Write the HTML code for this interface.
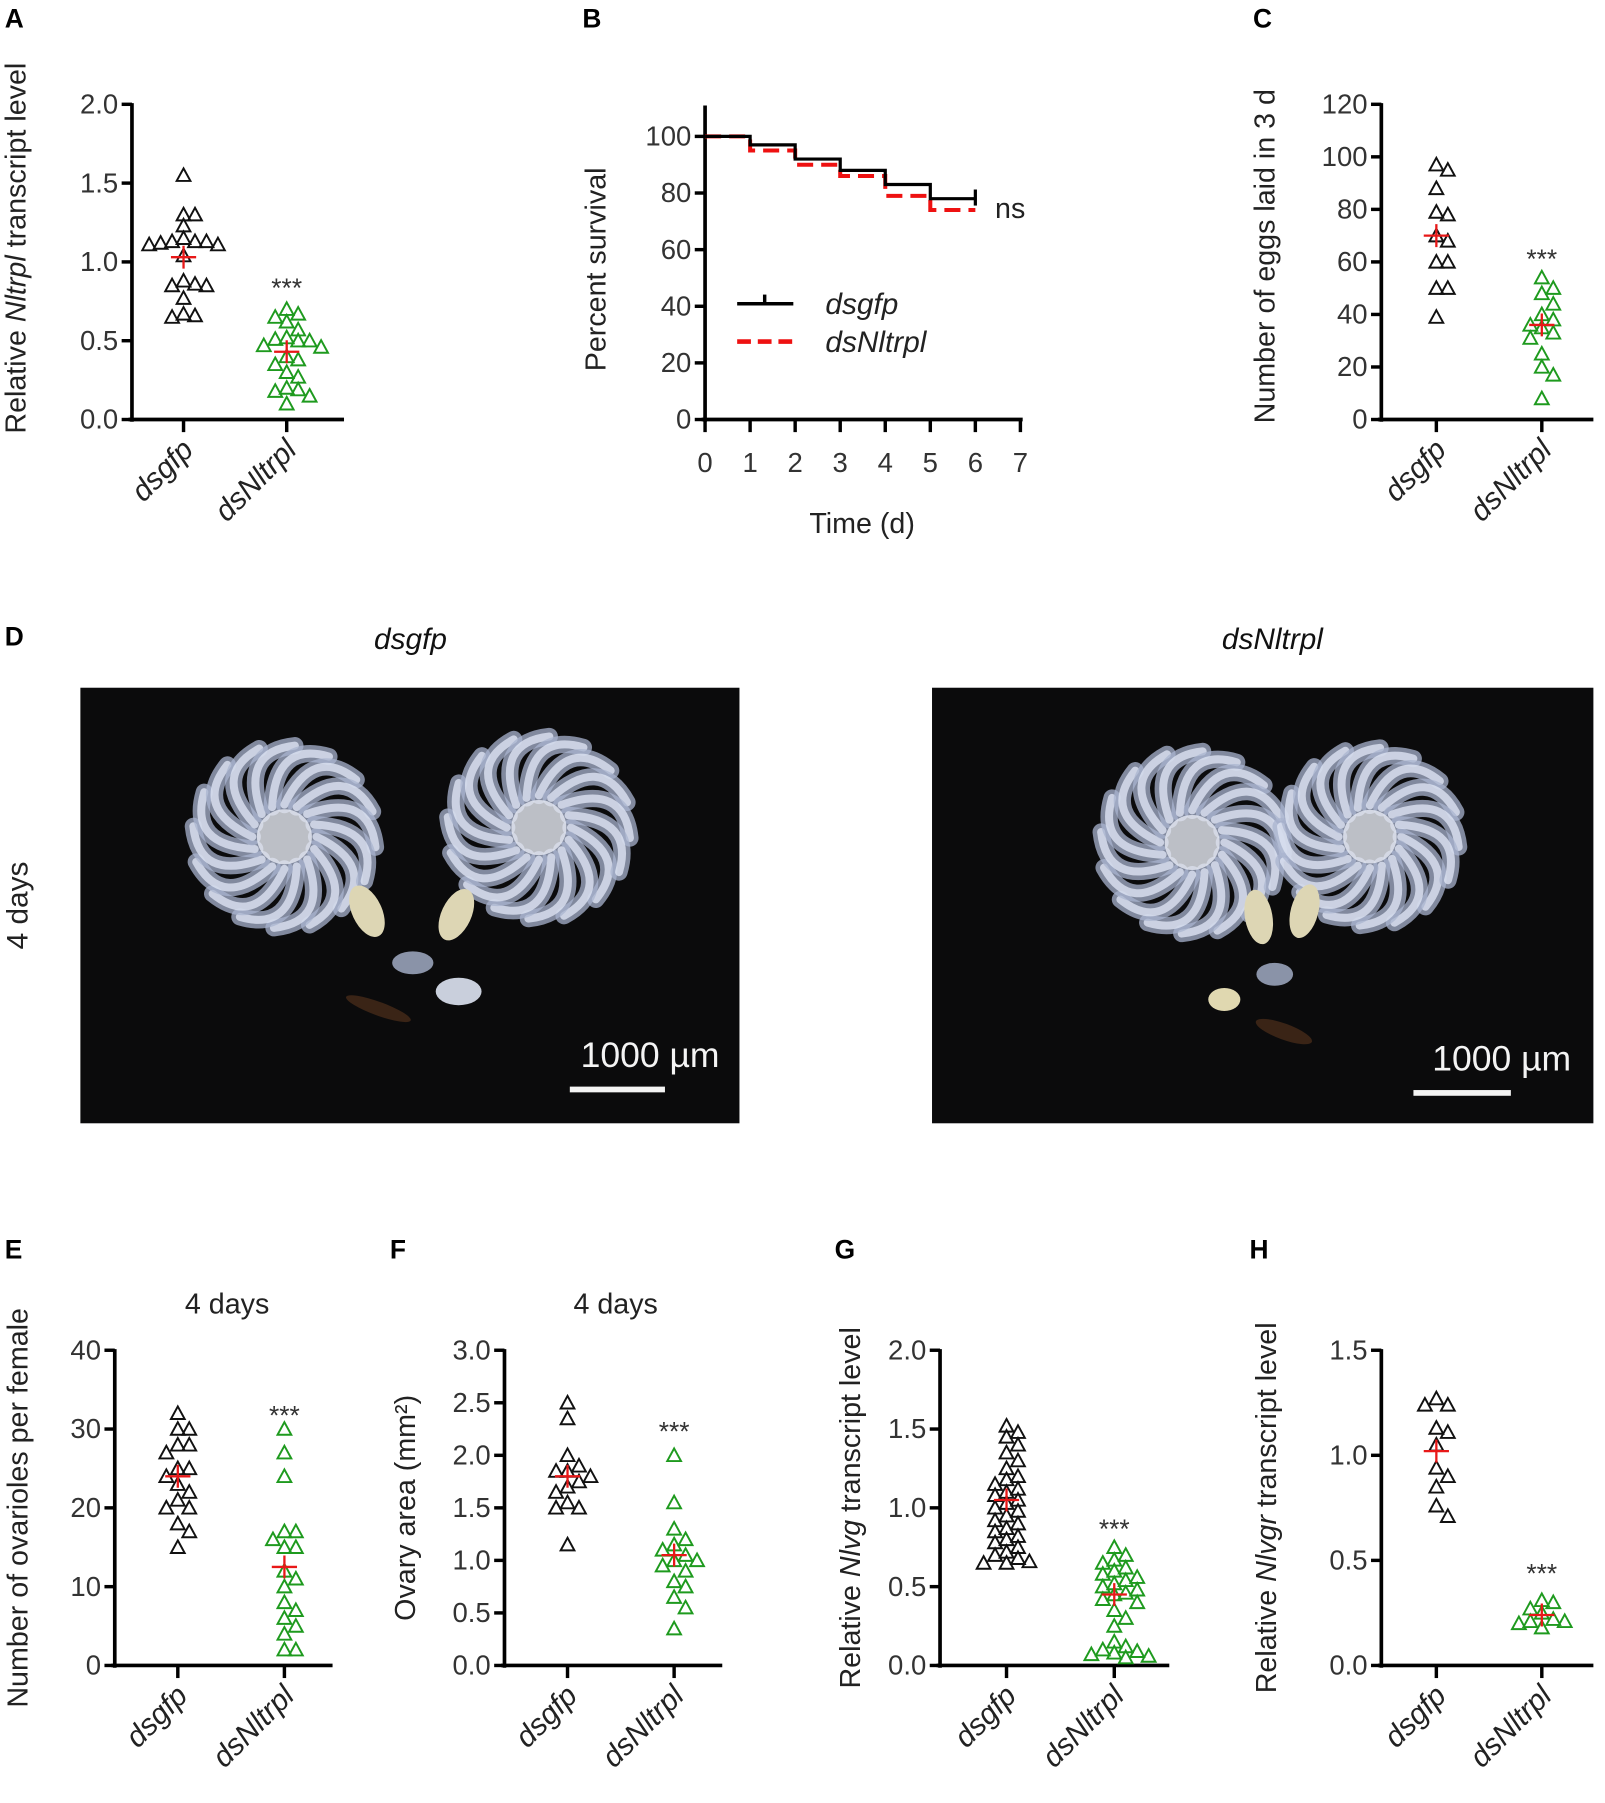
<!DOCTYPE html>
<html><head><meta charset="utf-8"><style>
html,body{margin:0;padding:0;background:#fff}
svg{display:block}
text{font-family:"Liberation Sans",Arial,sans-serif}
</style></head><body>
<svg id="fig" width="1605" height="1803" viewBox="0 0 1400 1573" xmlns="http://www.w3.org/2000/svg">
<g id="root"></g>
</svg>
<script>
// ---------- DATA ----------
const groups = ["dsgfp", "dsNltrpl"];
const aCtrl = [1.55,1.30,1.30,1.23,1.15,1.13,1.13,1.13,1.12,1.11,1.11,1.04,0.88,0.86,0.85,0.85,0.77,0.67,0.66,0.65];
const aKd = [0.70,0.67,0.65,0.62,0.57,0.52,0.51,0.50,0.50,0.47,0.46,0.40,0.38,0.35,0.30,0.27,0.20,0.19,0.18,0.15,0.10];
const aMeans = [1.03, 0.43];
const aTicks = ["0.0","0.5","1.0","1.5","2.0"];

const bDays = [0,1,2,3,4,5,6];
const bCtrl = [100,97,92,88,83,78,78];
const bKd = [100,95,90,86,79,74,74];
const bTicksY = ["0","20","40","60","80","100"];
const bTicksX = ["0","1","2","3","4","5","6","7"];

const cCtrl = [97,95,88,79,78,70,68,60,60,50,50,39];
const cKd = [54,50,48,44,40,38,36,35,33,31,25,20,17,8];
const cMeans = [70, 36];
const cTicks = ["0","20","40","60","80","100","120"];

const eCtrl = [32,30,30,28,28,27,25,25,24,23,22,21,20,20,18,17,15];
const eKd = [30,27,24,17,17,16,15,15,12,11,10,8,7,6,5,4,2,2];
const eMeans = [24, 12.5];
const eTicks = ["0","10","20","30","40"];

const fCtrl = [2.5,2.35,2.0,1.9,1.85,1.85,1.8,1.75,1.7,1.65,1.55,1.5,1.5,1.15];
const fKd = [2.0,1.55,1.3,1.2,1.15,1.1,1.05,1.0,1.0,0.95,0.9,0.8,0.75,0.65,0.55,0.35];
const fMeans = [1.8, 1.05];
const fTicks = ["0.0","0.5","1.0","1.5","2.0","2.5","3.0"];

const gCtrl = [1.52,1.48,1.45,1.40,1.35,1.30,1.25,1.20,1.18,1.15,1.12,1.10,1.08,1.05,1.03,1.00,0.98,0.95,0.92,0.90,0.87,0.85,0.82,0.80,0.78,0.75,0.72,0.70,0.68,0.66,0.65,0.65];
const gKd = [0.75,0.70,0.67,0.65,0.62,0.60,0.58,0.56,0.54,0.52,0.50,0.48,0.46,0.45,0.42,0.40,0.35,0.30,0.25,0.15,0.12,0.10,0.09,0.08,0.07,0.06,0.05];
const gMeans = [1.05, 0.45];
const gTicks = ["0.0","0.5","1.0","1.5","2.0"];

const hCtrl = [1.27,1.24,1.24,1.13,1.11,1.05,0.94,0.90,0.85,0.76,0.71];
const hKd = [0.31,0.30,0.27,0.25,0.22,0.21,0.21,0.20,0.18];
const hMeans = [1.02, 0.24];
const hTicks = ["0.0","0.5","1.0","1.5"];

// ---------- DRAW ----------
const NS="http://www.w3.org/2000/svg";
const root=document.getElementById('root');
function el(tag,attrs,parent,txt){const e=document.createElementNS(NS,tag);for(const k in attrs)e.setAttribute(k,attrs[k]);if(txt!==undefined)e.textContent=txt;(parent||root).appendChild(e);return e;}

function label(x,y,t){
  const e=el('text',{x:x,y:y,'font-size':23,'font-weight':'bold',fill:'#000'},root,t);
  
  
}

function ytitle(g,cx,cy,parts){
  const t=el('text',{x:0,y:0,'font-size':25,fill:'#222','text-anchor':'middle',transform:`translate(${cx},${cy}) rotate(-90)`},g);
  
  
  parts.forEach(p=>{const s=el('tspan',{},t,p[0]);if(p[1])s.setAttribute('font-style','italic');});
}

function swarm(vals,yfn,cx){
  const placed=[];const out=[];
  const order=vals.map((v,i)=>i).sort((a,b)=>vals[b]-vals[a]);
  order.forEach(i=>{
    const y=yfn(vals[i]);let k=0,x=cx;
    while(true){
      const off=(k%2?1:-1)*Math.ceil(k/2)*10;x=cx+off;
      if(placed.every(p=>Math.hypot(p[0]-x,p[1]-y)>=9.5))break;k++;if(k>20)break;
    }
    placed.push([x,y]);out.push([x,y]);
  });
  return out;
}

function tri(g,x,y,col){
  const t=el('path',{d:`M${x},${y-6} L${x+6},${y+5} L${x-6},${y+5} Z`,fill:'none',stroke:col,'stroke-width':1.7},g);
  
  
}

function scatterPanel(o){
  const g=el('g',{});
  
  
  const y=v=>o.y0-(v/o.max)*(o.y0-o.ytop);
  const ya=el('line',{x1:o.ax,y1:o.ytop-1,x2:o.ax,y2:o.y0+2,stroke:'#000','stroke-width':3.2},g);
  
  const xa=el('line',{x1:o.ax-3,y1:o.y0,x2:o.xend,y2:o.y0,stroke:'#000','stroke-width':3.2},g);
  
  o.ticks.forEach(t=>{
    const v=parseFloat(t),yy=y(v);
    el('line',{x1:o.ax-9,y1:yy,x2:o.ax,y2:yy,stroke:'#000','stroke-width':3},g);
    const tl=el('text',{x:o.ax-12,y:yy+8,'font-size':24,fill:'#333','text-anchor':'end'},g,t);
    
    
  });
  [o.xc[0],o.xc[1]].forEach((xc,i)=>{
    el('line',{x1:xc,y1:o.y0,x2:xc,y2:o.y0+11,stroke:'#000','stroke-width':3},g);
    const tl=el('text',{x:0,y:0,'font-size':26,fill:'#222','font-style':'italic','text-anchor':'end',transform:`translate(${xc+10},${o.y0+28}) rotate(-45)`},g,groups[i]);
    
    
  });
  [o.d0,o.d1].forEach((d,i)=>{
    const col=i?'#1e9a1e':'#111';
    swarm(d,y,o.xc[i]).forEach(p=>tri(g,p[0],p[1],col));
    const m=y(o.means[i]);
    const mk=el('path',{d:`M${o.xc[i]-11},${m} H${o.xc[i]+11} M${o.xc[i]},${m-10} V${m+10}`,stroke:'#e81818','stroke-width':2},g);
    
    
  });
  const st=el('text',{x:o.xc[1],y:y(o.star)+10,'font-size':23,fill:'#333','text-anchor':'middle'},g,'***');
  
  
  ytitle(g,o.tx,(o.ytop+o.y0)/2+o.tyOff,o.title);
  if(o.sub){const s=el('text',{x:o.subx,y:1146,'font-size':25,fill:'#222','text-anchor':'middle'},g,'4 days');}
}

label(4,24,'A');label(508,24,'B');label(1093,24,'C');label(4,563,'D');
label(4,1098,'E');label(340,1098,'F');label(728,1098,'G');label(1090,1098,'H');

scatterPanel({name:'panel-a-chart',ax:115,y0:366,ytop:91,max:2,xend:300,xc:[160,250],ticks:aTicks,d0:aCtrl,d1:aKd,means:aMeans,star:0.85,tx:22,tyOff:-12,title:[['Relative '],['Nltrpl',1],[' transcript level']]});
scatterPanel({name:'panel-c-chart',ax:1205,y0:366,ytop:91,max:120,xend:1390,xc:[1253,1345],ticks:cTicks,d0:cCtrl,d1:cKd,means:cMeans,star:62,tx:1112,tyOff:-5,title:[['Number of eggs laid in 3 d']]});
scatterPanel({name:'panel-e-chart',ax:100,y0:1453,ytop:1178,max:40,xend:290,xc:[155,248],ticks:eTicks,d0:eCtrl,d1:eKd,means:eMeans,star:32,tx:24,tyOff:0,title:[['Number of ovarioles per female']],sub:1,subx:198});
scatterPanel({name:'panel-f-chart',ax:440,y0:1453,ytop:1178,max:3,xend:630,xc:[495,588],ticks:fTicks,d0:fCtrl,d1:fKd,means:fMeans,star:2.25,tx:362,tyOff:0,title:[['Ovary area (mm'],['²'],[')']],sub:1,subx:537});
scatterPanel({name:'panel-g-chart',ax:820,y0:1453,ytop:1178,max:2,xend:1020,xc:[878,972],ticks:gTicks,d0:gCtrl,d1:gKd,means:gMeans,star:0.88,tx:750,tyOff:0,title:[['Relative '],['Nlvg',1],[' transcript level']]});
scatterPanel({name:'panel-h-chart',ax:1205,y0:1453,ytop:1178,max:1.5,xend:1390,xc:[1253,1345],ticks:hTicks,d0:hCtrl,d1:hKd,means:hMeans,star:0.45,tx:1113,tyOff:0,title:[['Relative '],['Nlvgr',1],[' transcript level']]});

// Panel B survival
(function(){
  const g=el('g',{});
  
  
  const ax=615,y0=366,y100=119,xs=39.3;
  const x=d=>ax+d*xs, y=v=>y0-(v/100)*(y0-y100);
  const ya=el('line',{x1:ax,y1:92,x2:ax,y2:y0+2,stroke:'#000','stroke-width':3.2},g);
  
  const xa=el('line',{x1:ax-3,y1:y0,x2:x(7)+2,y2:y0,stroke:'#000','stroke-width':3.2},g);
  
  bTicksY.forEach(t=>{const yy=y(+t);el('line',{x1:ax-9,y1:yy,x2:ax,y2:yy,stroke:'#000','stroke-width':3},g);
    const tl=el('text',{x:ax-12,y:yy+8,'font-size':24,fill:'#333','text-anchor':'end'},g,t);
    });
  bTicksX.forEach(t=>{const xx=x(+t);el('line',{x1:xx,y1:y0,x2:xx,y2:y0+11,stroke:'#000','stroke-width':3},g);
    const tl=el('text',{x:xx,y:412,'font-size':24,fill:'#333','text-anchor':'middle'},g,t);
    });
  function step(vals,col,dash,w){
    let d=`M${x(bDays[0])},${y(vals[0])}`;
    for(let i=1;i<bDays.length;i++){d+=` H${x(bDays[i])} V${y(vals[i])}`;}
    const p=el('path',{d:d,fill:'none',stroke:col,'stroke-width':w},g);
    if(dash)p.setAttribute('stroke-dasharray',dash);
    return p;
  }
  const r=step(bKd,'#ee1111','14 7',3.5);
  const k=step(bCtrl,'#000',null,2.8);
  el('line',{x1:x(6),y1:y(bCtrl[6])-8,x2:x(6),y2:y(bCtrl[6])+6,stroke:'#000','stroke-width':2.8},g);
  const ns=el('text',{x:868,y:190,'font-size':25,fill:'#222'},g,'ns');
  const lg=el('g',{},g);
  el('line',{x1:643,y1:265,x2:692,y2:265,stroke:'#000','stroke-width':3},lg);
  el('line',{x1:667,y1:257,x2:667,y2:265,stroke:'#000','stroke-width':3},lg);
  el('text',{x:720,y:274,'font-size':26,'font-style':'italic',fill:'#222'},lg,'dsgfp');
  el('line',{x1:643,y1:298,x2:692,y2:298,stroke:'#ee1111','stroke-width':4,'stroke-dasharray':'12 6'},lg);
  el('text',{x:720,y:307,'font-size':26,'font-style':'italic',fill:'#222'},lg,'dsNltrpl');
  const yt=el('text',{x:0,y:0,'font-size':25,fill:'#222','text-anchor':'middle',transform:'translate(528,235) rotate(-90)'},g,'Percent survival');
  
  const xt=el('text',{x:752,y:465,'font-size':25,fill:'#222','text-anchor':'middle'},g,'Time (d)');
  
})();

// Panel D photos
(function(){
  const g=el('g',{});
  
  
  [['dsgfp',358],['dsNltrpl',1110]].forEach(a=>{const t=el('text',{x:a[1],y:566,'font-size':26,'font-style':'italic',fill:'#111','text-anchor':'middle'},g,a[0]);});
  const d4=el('text',{x:0,y:0,'font-size':26,fill:'#222','text-anchor':'middle',transform:'translate(24,790) rotate(-90)'},g,'4 days');
  
  function photo(x0,w,clusters,ducts,bar){
    const p=el('g',{},g);
    
    
    el('rect',{x:x0,y:600,width:w,height:380,fill:'#0b0b0c'},p);
    clusters.forEach(c=>{
      const [cx,cy,r,n]=c;
      for(let i=0;i<n;i++){
        const a=(i/n)*Math.PI*2;
        const sx=cx+Math.cos(a)*r*0.35, sy=cy+Math.sin(a)*r*0.35;
        const ex=cx+Math.cos(a+0.9)*r, ey=cy+Math.sin(a+0.9)*r;
        const mx=cx+Math.cos(a+0.3)*r*1.05, my=cy+Math.sin(a+0.3)*r*1.05;
        el('path',{d:`M${sx},${sy} Q${mx},${my} ${ex},${ey}`,fill:'none',stroke:'#a9b4cf','stroke-width':15,'stroke-linecap':'round',opacity:0.75},p);
        el('path',{d:`M${sx},${sy} Q${mx},${my} ${ex},${ey}`,fill:'none',stroke:'#dde4f2','stroke-width':7,'stroke-linecap':'round',opacity:0.8},p);
      }
      el('circle',{cx:cx,cy:cy,r:r*0.3,fill:'#e8ecf5',opacity:0.8},p);
    });
    ducts.forEach(d=>{el('ellipse',{cx:d[0],cy:d[1],rx:d[2],ry:d[3],fill:d[4],transform:`rotate(${d[5]} ${d[0]} ${d[1]})`},p);});
    el('rect',{x:bar[0],y:bar[1],width:bar[2],height:5,fill:'#f4f4f4'},p);
    const t=el('text',{x:bar[3],y:bar[1]-17,'font-size':31,fill:'#f4f4f4','text-anchor':'middle'},p,'1000 µm');
    
  }
  photo(70,575,[[248,730,80,16],[470,722,80,16]],
    [[320,795,13,24,'#ddd6b4',-25],[398,798,13,24,'#ddd6b4',25],[360,840,18,10,'#8a93a8',0],[400,865,20,12,'#c9cfdc',0],[330,880,30,6,'#3a2416',20]],
    [497,948,83,567]);
  photo(813,577,[[1040,735,80,16],[1195,730,78,16]],
    [[1098,800,12,24,'#ddd6b4',-10],[1138,795,12,24,'#ddd6b4',15],[1112,850,16,10,'#8a93a8',0],[1068,872,14,10,'#e0d8b0',0],[1120,900,26,7,'#3a2416',20]],
    [1233,951,85,1310]);
})();
</script>
</body></html>
